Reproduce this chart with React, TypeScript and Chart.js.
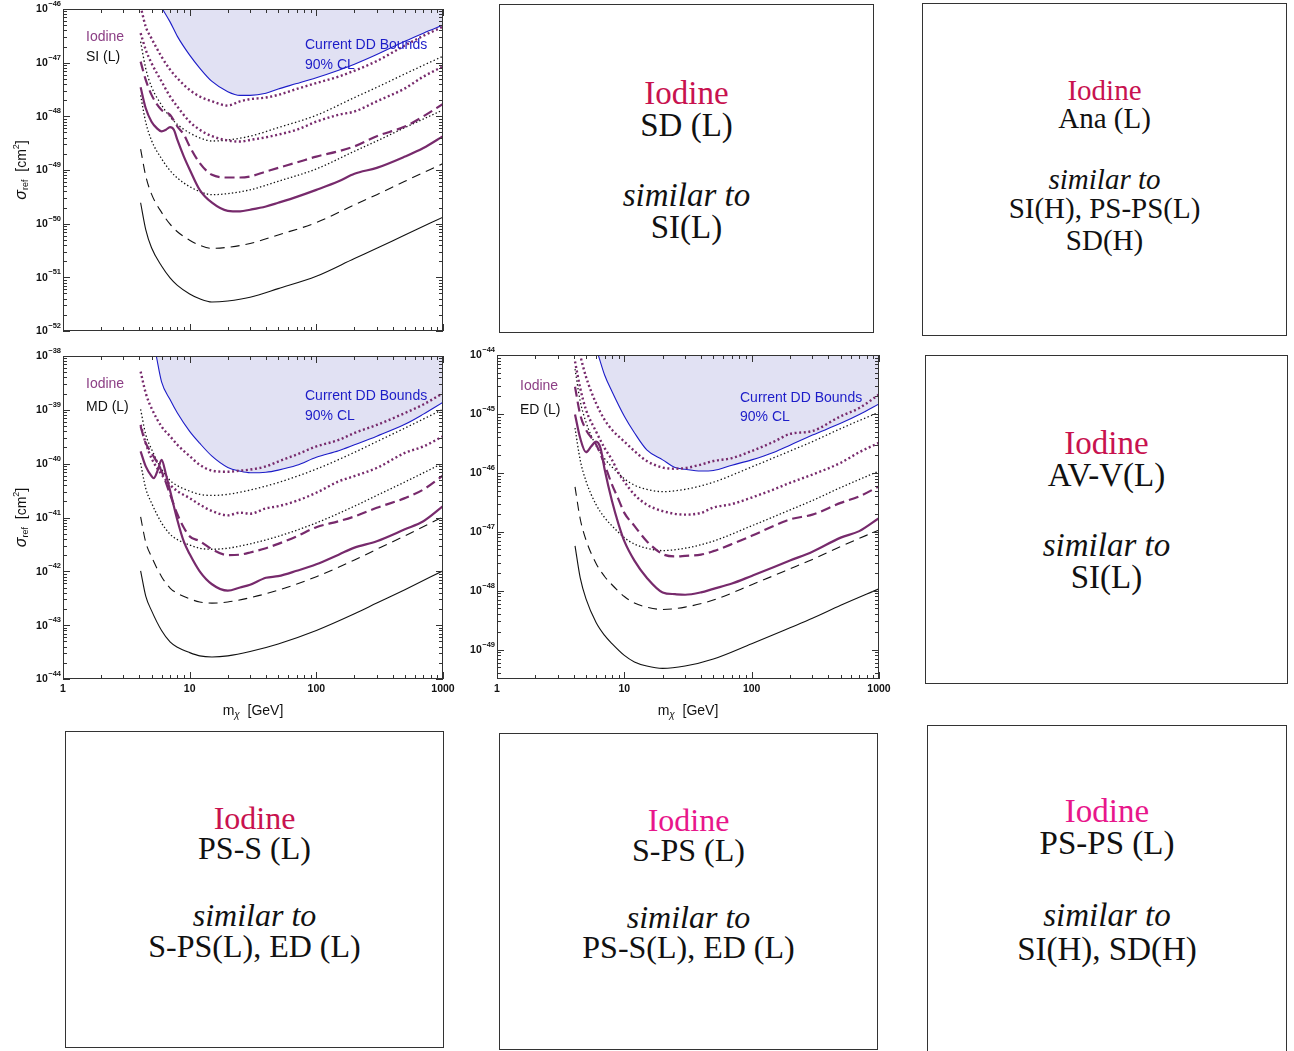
import React, { useEffect, useRef } from "react";
import { Chart, registerables } from "chart.js";

Chart.register(...registerables);

// ---------------- data: log10(sigma_ref / cm^2) ----------------
const X_TICKS = [1, 10, 100, 1000];
const SI_Y_TICKS = [-52, -51, -50, -49, -48, -47, -46];
const MD_Y_TICKS = [-44, -43, -42, -41, -40, -39, -38];
const ED_Y_TICKS = [-49, -48, -47, -46, -45, -44];

const MASS_BLACK = [4.1, 4.5, 5, 6, 7, 8, 10, 12, 15, 20, 30, 50, 100, 200, 300, 500, 1000];
const MASS_PURPLE = [4.1, 4.5, 5, 6, 7, 8, 10, 12, 15, 20, 25, 30, 40, 50, 70, 100, 150, 200, 300, 500, 700, 1000];
const MASS_PURPLE_DASH = [4.1, 4.5, 5, 6, 7, 8, 9, 10, 12, 15, 20, 25, 30, 40, 50, 70, 100, 150, 200, 300, 500, 700, 1000];

// ---- SI (L)
const SI_BLUE_MASS = [6.1, 7, 8, 10, 12, 15, 20, 25, 30, 40, 50, 70, 100, 150, 200, 300, 500, 700, 1000];
const SI_BLUE = [-46.0, -46.24, -46.51, -46.86, -47.1, -47.35, -47.54, -47.61, -47.61, -47.57, -47.49, -47.39, -47.28, -47.14, -47.03, -46.85, -46.6, -46.45, -46.3];
const SI_PU_DOT1 = [-45.95, -46.33, -46.55, -46.89, -47.13, -47.29, -47.51, -47.63, -47.72, -47.8, -47.72, -47.68, -47.65, -47.6, -47.49, -47.38, -47.26, -47.15, -46.97, -46.68, -46.5, -46.33];
const SI_PU_DOT2 = [-46.45, -46.76, -47.01, -47.35, -47.63, -47.82, -48.1, -48.25, -48.37, -48.45, -48.47, -48.44, -48.39, -48.34, -48.25, -48.1, -47.97, -47.91, -47.72, -47.48, -47.26, -47.07];
const SI_PU_DASH = [-46.98, -47.32, -47.6, -47.88, -47.97, -48.19, -48.34, -48.56, -48.87, -49.09, -49.14, -49.14, -49.12, -49.03, -48.96, -48.86, -48.75, -48.65, -48.56, -48.37, -48.19, -48.0, -47.77];
const SI_PU_SOLID_MASS = [4.1, 4.5, 5, 5.5, 6, 6.5, 7, 7.5, 8, 9, 10, 12, 15, 20, 25, 30, 40, 50, 70, 100, 150, 200, 300, 500, 700, 1000];
const SI_PU_SOLID = [-47.46, -47.85, -48.1, -48.22, -48.28, -48.25, -48.2, -48.25, -48.44, -48.75, -48.99, -49.37, -49.61, -49.76, -49.77, -49.74, -49.68, -49.61, -49.5, -49.37, -49.21, -49.07, -48.96, -48.75, -48.59, -48.37];
const SI_BK_DOT1 = [-46.61, -47.11, -47.45, -47.79, -48.01, -48.15, -48.31, -48.4, -48.46, -48.44, -48.37, -48.21, -47.98, -47.65, -47.46, -47.21, -46.88];
const SI_BK_DOT2 = [-47.61, -48.11, -48.45, -48.79, -49.01, -49.15, -49.31, -49.4, -49.46, -49.44, -49.37, -49.21, -48.98, -48.65, -48.46, -48.21, -47.88];
const SI_BK_DASH = [-48.61, -49.11, -49.45, -49.79, -50.01, -50.15, -50.31, -50.4, -50.46, -50.44, -50.37, -50.21, -49.98, -49.65, -49.46, -49.21, -48.88];
const SI_BK_SOLID = [-49.61, -50.11, -50.45, -50.79, -51.01, -51.15, -51.31, -51.4, -51.46, -51.44, -51.37, -51.21, -50.98, -50.65, -50.46, -50.21, -49.88];

// ---- MD (L)
const MD_BLUE_MASS = [5.45, 6, 7, 8, 10, 12, 15, 20, 25, 30, 40, 50, 70, 100, 150, 200, 300, 500, 700, 1000];
const MD_BLUE = [-38.0, -38.48, -38.81, -39.06, -39.4, -39.62, -39.86, -40.07, -40.14, -40.17, -40.16, -40.12, -40.03, -39.88, -39.76, -39.65, -39.49, -39.27, -39.08, -38.86];
const MD_PU_DOT1 = [-38.29, -38.69, -38.97, -39.31, -39.49, -39.65, -39.86, -40.02, -40.13, -40.15, -40.13, -40.11, -40.05, -39.96, -39.83, -39.68, -39.56, -39.43, -39.28, -39.06, -38.9, -38.69];
const MD_PU_DOT2 = [-39.28, -39.62, -39.9, -40.2, -40.39, -40.51, -40.64, -40.76, -40.88, -40.96, -40.91, -40.93, -40.83, -40.79, -40.69, -40.54, -40.33, -40.23, -40.08, -39.8, -39.68, -39.49];
const MD_PU_DASH = [-39.31, -39.62, -39.8, -40.14, -40.57, -40.94, -41.19, -41.35, -41.44, -41.59, -41.7, -41.69, -41.65, -41.57, -41.49, -41.35, -41.18, -41.07, -40.98, -40.82, -40.64, -40.48, -40.22];
const MD_PU_SOLID_MASS = [4.1, 4.5, 5, 5.2, 5.6, 6, 6.5, 7, 8, 9, 10, 12, 15, 20, 25, 30, 40, 50, 70, 100, 150, 200, 300, 500, 700, 1000];
const MD_PU_SOLID = [-39.77, -40.05, -40.23, -40.27, -40.12, -39.93, -40.2, -40.5, -41.05, -41.45, -41.68, -42.0, -42.24, -42.36, -42.3, -42.25, -42.12, -42.09, -41.99, -41.87, -41.69, -41.56, -41.44, -41.22, -41.07, -40.79];
const MD_BK_DOT1 = [-38.99, -39.46, -39.73, -40.1, -40.31, -40.41, -40.51, -40.57, -40.59, -40.57, -40.49, -40.35, -40.1, -39.79, -39.59, -39.34, -38.99];
const MD_BK_DOT2 = [-39.99, -40.46, -40.73, -41.1, -41.31, -41.41, -41.51, -41.57, -41.59, -41.57, -41.49, -41.35, -41.1, -40.79, -40.59, -40.34, -39.99];
const MD_BK_DASH = [-40.99, -41.46, -41.73, -42.1, -42.31, -42.41, -42.51, -42.57, -42.59, -42.57, -42.49, -42.35, -42.1, -41.79, -41.59, -41.34, -40.99];
const MD_BK_SOLID = [-41.99, -42.46, -42.73, -43.1, -43.31, -43.41, -43.51, -43.57, -43.59, -43.57, -43.49, -43.35, -43.1, -42.79, -42.59, -42.34, -41.99];

// ---- ED (L)
const ED_BLUE_MASS = [6.24, 7, 8, 10, 12, 15, 20, 25, 30, 40, 50, 70, 100, 150, 200, 300, 500, 700, 1000];
const ED_BLUE = [-44.0, -44.34, -44.62, -45.04, -45.32, -45.61, -45.78, -45.91, -45.94, -45.97, -45.96, -45.87, -45.78, -45.65, -45.53, -45.36, -45.16, -45.01, -44.83];
const ED_PU_DOT1 = [-43.6, -44.0, -44.37, -44.82, -45.1, -45.27, -45.47, -45.63, -45.8, -45.91, -45.93, -45.92, -45.86, -45.8, -45.75, -45.63, -45.47, -45.34, -45.29, -45.04, -44.9, -44.67];
const ED_PU_DOT2_MASS = [4.1, 4.5, 5, 6, 7, 8, 9, 10, 12, 15, 20, 30, 40, 50, 70, 100, 150, 200, 300, 500, 700, 1000];
const ED_PU_DOT2 = [-44.11, -44.56, -44.93, -45.3, -45.58, -45.78, -46.0, -46.15, -46.37, -46.54, -46.65, -46.71, -46.68, -46.59, -46.53, -46.42, -46.28, -46.17, -46.03, -45.83, -45.65, -45.49];
const ED_PU_DASH = [-44.54, -45.01, -45.27, -45.52, -45.86, -46.2, -46.45, -46.68, -46.9, -47.16, -47.38, -47.42, -47.41, -47.39, -47.33, -47.21, -47.07, -46.9, -46.79, -46.71, -46.51, -46.4, -46.23];
const ED_PU_SOLID_MASS = [4.1, 4.5, 5, 5.5, 6, 6.5, 7, 8, 9, 10, 12, 15, 20, 25, 30, 40, 50, 70, 100, 150, 200, 300, 500, 700, 1000];
const ED_PU_SOLID = [-45.01, -45.41, -45.65, -45.55, -45.47, -45.58, -45.94, -46.48, -46.87, -47.16, -47.49, -47.78, -48.03, -48.06, -48.07, -48.03, -47.97, -47.88, -47.75, -47.6, -47.49, -47.34, -47.1, -46.99, -46.77];
const ED_BK_DOT1 = [-44.24, -44.78, -45.14, -45.54, -45.76, -45.9, -46.1, -46.21, -46.28, -46.32, -46.28, -46.16, -45.9, -45.63, -45.47, -45.25, -44.97];
const ED_BK_DOT2 = [-45.24, -45.78, -46.14, -46.54, -46.76, -46.9, -47.1, -47.21, -47.28, -47.32, -47.28, -47.16, -46.9, -46.63, -46.47, -46.25, -45.97];
const ED_BK_DASH = [-46.24, -46.78, -47.14, -47.54, -47.76, -47.9, -48.1, -48.21, -48.28, -48.32, -48.28, -48.16, -47.9, -47.63, -47.47, -47.25, -46.97];
const ED_BK_SOLID = [-47.24, -47.78, -48.14, -48.54, -48.76, -48.9, -49.1, -49.21, -49.28, -49.32, -49.28, -49.16, -48.9, -48.63, -48.47, -48.25, -47.97];

// ---------------- styles ----------------
const SANS = '"Liberation Sans", Arial, Helvetica, sans-serif';
const SERIF = '"Liberation Serif", "Times New Roman", serif';
const PURPLE = "#772a6c";
const BLACK = "#111111";
const BLUE = "#1c1cc8";
const FILL = "rgb(225,225,243)";
const LABEL_PURPLE = "#8c3f85";
const FRAME = "#333333";

type Series = [number[], number[]];

const toPts = (m: number[], lg: number[]) => m.map((x, i) => ({ x, y: Math.pow(10, lg[i]) }));

function lineDs(s: Series, color: string, width: number, dash: number[], extra: any = {}) {
  return {
    data: toPts(s[0], s[1]),
    borderColor: color,
    borderWidth: width,
    borderDash: dash,
    pointRadius: 0,
    fill: false,
    cubicInterpolationMode: "monotone",
    ...extra,
  };
}

type PanelCfg = {
  key: string;
  left: number;
  top: number;
  w: number;
  h: number;
  pad: { left: number; top: number; right: number; bottom: number };
  yExp: [number, number];
  yTicks: number[];
  xLabels: boolean;
  yTitle: boolean;
  op: string;
  iod: [number, number, number];
  dd: [number, number, number];
  series: Record<string, Series>;
};

const PANELS: PanelCfg[] = [
  {
    key: "si",
    left: 0,
    top: 0,
    w: 460,
    h: 345,
    pad: { left: 63, top: 9, right: 17, bottom: 14 },
    yExp: [-52, -46],
    yTicks: SI_Y_TICKS,
    xLabels: false,
    yTitle: true,
    op: "SI (L)",
    iod: [86, 37, 57],
    dd: [305, 45, 65],
    series: {
      blue: [SI_BLUE_MASS, SI_BLUE],
      puDot1: [MASS_PURPLE, SI_PU_DOT1],
      puDot2: [MASS_PURPLE, SI_PU_DOT2],
      puDash: [MASS_PURPLE_DASH, SI_PU_DASH],
      puSolid: [SI_PU_SOLID_MASS, SI_PU_SOLID],
      bkDot1: [MASS_BLACK, SI_BK_DOT1],
      bkDot2: [MASS_BLACK, SI_BK_DOT2],
      bkDash: [MASS_BLACK, SI_BK_DASH],
      bkSolid: [MASS_BLACK, SI_BK_SOLID],
    },
  },
  {
    key: "md",
    left: 0,
    top: 345,
    w: 470,
    h: 380,
    pad: { left: 63, top: 11, right: 27, bottom: 46 },
    yExp: [-44, -38],
    yTicks: MD_Y_TICKS,
    xLabels: true,
    yTitle: true,
    op: "MD (L)",
    iod: [86, 39, 62],
    dd: [305, 51, 71],
    series: {
      blue: [MD_BLUE_MASS, MD_BLUE],
      puDot1: [MASS_PURPLE, MD_PU_DOT1],
      puDot2: [MASS_PURPLE, MD_PU_DOT2],
      puDash: [MASS_PURPLE_DASH, MD_PU_DASH],
      puSolid: [MD_PU_SOLID_MASS, MD_PU_SOLID],
      bkDot1: [MASS_BLACK, MD_BK_DOT1],
      bkDot2: [MASS_BLACK, MD_BK_DOT2],
      bkDash: [MASS_BLACK, MD_BK_DASH],
      bkSolid: [MASS_BLACK, MD_BK_SOLID],
    },
  },
  {
    key: "ed",
    left: 460,
    top: 345,
    w: 440,
    h: 380,
    pad: { left: 37, top: 10, right: 21, bottom: 46 },
    yExp: [-49.5, -44],
    yTicks: ED_Y_TICKS,
    xLabels: true,
    yTitle: false,
    op: "ED (L)",
    iod: [60, 41, 65],
    dd: [280, 53.5, 72.5],
    series: {
      blue: [ED_BLUE_MASS, ED_BLUE],
      puDot1: [MASS_PURPLE, ED_PU_DOT1],
      puDot2: [ED_PU_DOT2_MASS, ED_PU_DOT2],
      puDash: [MASS_PURPLE_DASH, ED_PU_DASH],
      puSolid: [ED_PU_SOLID_MASS, ED_PU_SOLID],
      bkDot1: [MASS_BLACK, ED_BK_DOT1],
      bkDot2: [MASS_BLACK, ED_BK_DOT2],
      bkDash: [MASS_BLACK, ED_BK_DASH],
      bkSolid: [MASS_BLACK, ED_BK_SOLID],
    },
  },
];

type Part = { t: string; font: string; dy: number };

function drawParts(ctx: CanvasRenderingContext2D, parts: Part[], cx: number, cy: number) {
  let total = 0;
  const widths = parts.map((p) => {
    ctx.font = p.font;
    const w = ctx.measureText(p.t).width;
    total += w;
    return w;
  });
  let x = cx - total / 2;
  ctx.textAlign = "left";
  ctx.textBaseline = "middle";
  parts.forEach((p, i) => {
    ctx.font = p.font;
    ctx.fillText(p.t, x, cy + p.dy);
    x += widths[i];
  });
}

function drawPow(ctx: CanvasRenderingContext2D, xRight: number, y: number, exp: number) {
  const e = "\u2212" + Math.abs(exp);
  ctx.textAlign = "left";
  ctx.textBaseline = "middle";
  ctx.font = `bold 7.5px ${SANS}`;
  const ew = ctx.measureText(e).width;
  ctx.font = `bold 10.5px ${SANS}`;
  const bw = ctx.measureText("10").width;
  ctx.fillText("10", xRight - ew - bw - 0.5, y + 0.5);
  ctx.font = `bold 7.5px ${SANS}`;
  ctx.fillText(e, xRight - ew, y - 5);
}

function makePlugin(cfg: PanelCfg) {
  return {
    id: "frame_" + cfg.key,
    afterDatasetsDraw(chart: any) {
      const ctx: CanvasRenderingContext2D = chart.ctx;
      const a = chart.chartArea;
      const xs = chart.scales.x;
      const ys = chart.scales.y;
      ctx.save();
      ctx.strokeStyle = FRAME;
      ctx.fillStyle = "#111";
      ctx.lineWidth = 1;
      ctx.setLineDash([]);
      ctx.strokeRect(Math.round(a.left) + 0.5, Math.round(a.top) + 0.5, Math.round(a.right - a.left) - 1, Math.round(a.bottom - a.top) - 1);

      const MAJ = 7;
      const MIN = 4;
      ctx.beginPath();
      // x ticks
      for (let k = 0; k <= 3; k++) {
        for (let j = 1; j <= 9; j++) {
          const v = j * Math.pow(10, k);
          if (v > 1000 * 1.0001) continue;
          const px = Math.round(xs.getPixelForValue(v)) + 0.5;
          const len = j === 1 ? MAJ : MIN;
          ctx.moveTo(px, a.bottom);
          ctx.lineTo(px, a.bottom - len);
          ctx.moveTo(px, a.top);
          ctx.lineTo(px, a.top + len);
        }
      }
      // y ticks
      const lo = Math.floor(cfg.yExp[0]);
      const hi = Math.ceil(cfg.yExp[1]);
      const ymin = Math.pow(10, cfg.yExp[0]) * 0.9999;
      const ymax = Math.pow(10, cfg.yExp[1]) * 1.0001;
      for (let e = lo; e <= hi; e++) {
        for (let j = 1; j <= 9; j++) {
          const v = j * Math.pow(10, e);
          if (v < ymin || v > ymax) continue;
          const py = Math.round(ys.getPixelForValue(v)) + 0.5;
          const len = j === 1 ? MAJ : MIN;
          ctx.moveTo(a.left, py);
          ctx.lineTo(a.left + len, py);
          ctx.moveTo(a.right, py);
          ctx.lineTo(a.right - len, py);
        }
      }
      ctx.stroke();

      // y tick labels
      ctx.fillStyle = "#111";
      cfg.yTicks.forEach((e) => {
        const py = ys.getPixelForValue(Math.pow(10, e));
        drawPow(ctx, a.left - 2, py, e);
      });

      // x tick labels + title
      if (cfg.xLabels) {
        ctx.font = `bold 10.5px ${SANS}`;
        ctx.textAlign = "center";
        ctx.textBaseline = "middle";
        X_TICKS.forEach((v) => {
          ctx.fillText(String(v), xs.getPixelForValue(v), a.bottom + 10);
        });
        drawParts(
          ctx,
          [
            { t: "m", font: `14px ${SANS}`, dy: 0 },
            { t: "\u03c7", font: `italic 10px ${SANS}`, dy: 4 },
            { t: "  [GeV]", font: `14px ${SANS}`, dy: 0 },
          ],
          (a.left + a.right) / 2,
          a.bottom + 32
        );
      }

      // y title
      if (cfg.yTitle) {
        ctx.save();
        ctx.translate(22, (a.top + a.bottom) / 2);
        ctx.rotate(-Math.PI / 2);
        drawParts(
          ctx,
          [
            { t: "\u03c3", font: `italic 16px ${SANS}`, dy: 0 },
            { t: "ref", font: `9px ${SANS}`, dy: 4 },
            { t: "  [cm", font: `14px ${SANS}`, dy: 0 },
            { t: "2", font: `9px ${SANS}`, dy: -5 },
            { t: "]", font: `14px ${SANS}`, dy: 0 },
          ],
          0,
          0
        );
        ctx.restore();
      }

      // in-plot labels
      ctx.textAlign = "left";
      ctx.textBaseline = "middle";
      ctx.font = `14px ${SANS}`;
      ctx.fillStyle = LABEL_PURPLE;
      ctx.fillText("Iodine", cfg.iod[0], cfg.iod[1]);
      ctx.fillStyle = "#111";
      ctx.fillText(cfg.op, cfg.iod[0], cfg.iod[2]);
      ctx.fillStyle = BLUE;
      ctx.fillText("Current DD Bounds", cfg.dd[0], cfg.dd[1]);
      ctx.fillText("90% CL", cfg.dd[0], cfg.dd[2]);
      ctx.restore();
    },
  };
}

function ChartPanel({ cfg }: { cfg: PanelCfg }) {
  const ref = useRef<HTMLCanvasElement | null>(null);
  useEffect(() => {
    const s = cfg.series;
    const datasets: any[] = [
      lineDs(s.puSolid, PURPLE, 2.2, []),
      lineDs(s.puDash, PURPLE, 2.2, [10, 5]),
      lineDs(s.puDot2, PURPLE, 2.4, [2, 2.6]),
      lineDs(s.puDot1, PURPLE, 2.4, [2, 2.6]),
      lineDs(s.bkSolid, BLACK, 1.1, []),
      lineDs(s.bkDash, BLACK, 1.1, [9, 6]),
      lineDs(s.bkDot2, BLACK, 1.3, [1.4, 2.2]),
      lineDs(s.bkDot1, BLACK, 1.3, [1.4, 2.4]),
      lineDs(s.blue, BLUE, 1.1, [], { fill: "end", backgroundColor: FILL }),
    ];
    const ymin = Math.pow(10, cfg.yExp[0]);
    const ymax = Math.pow(10, cfg.yExp[1]);
    const chart = new Chart(ref.current as HTMLCanvasElement, {
      type: "line",
      data: { datasets },
      options: {
        responsive: false,
        animation: false,
        devicePixelRatio: 1,
        events: [],
        layout: { padding: cfg.pad },
        plugins: { legend: { display: false }, tooltip: { enabled: false }, title: { display: false } },
        scales: {
          x: { type: "logarithmic", min: 1, max: 1000, display: false, bounds: "data" },
          y: { type: "logarithmic", min: ymin, max: ymax, display: false, bounds: "data" },
        },
      } as any,
      plugins: [makePlugin(cfg)],
    } as any);
    return () => chart.destroy();
  }, [cfg]);
  return (
    <canvas
      ref={ref}
      width={cfg.w}
      height={cfg.h}
      style={{ position: "absolute", left: cfg.left, top: cfg.top, width: cfg.w, height: cfg.h }}
    />
  );
}

// ---------------- text boxes (layout) ----------------
type Note = {
  box: [number, number, number, number];
  size: number;
  color: string;
  lines: [string, number, boolean?][];
};

const CRIMSON = "#c8124f";
const PINK = "#e8168b";

const NOTES: Note[] = [
  { box: [499, 4, 375, 329], size: 33, color: CRIMSON, lines: [["Iodine", 105], ["SD (L)", 137], ["similar to", 207, true], ["SI(L)", 239]] },
  {
    box: [922, 3, 365, 333],
    size: 29,
    color: CRIMSON,
    lines: [["Iodine", 100], ["Ana (L)", 128], ["similar to", 189, true], ["SI(H), PS-PS(L)", 218], ["SD(H)", 250.5]],
  },
  { box: [925, 355, 363, 329], size: 33, color: CRIMSON, lines: [["Iodine", 455], ["AV-V(L)", 486.5], ["similar to", 556.5, true], ["SI(L)", 589]] },
  { box: [65, 731, 379, 317], size: 32, color: CRIMSON, lines: [["Iodine", 829], ["PS-S (L)", 859], ["similar to", 926, true], ["S-PS(L), ED (L)", 956.5]] },
  { box: [499, 733, 379, 317], size: 32, color: PINK, lines: [["Iodine", 831], ["S-PS (L)", 861], ["similar to", 927.5, true], ["PS-S(L), ED (L)", 958]] },
  { box: [927, 725, 360, 340], size: 33, color: PINK, lines: [["Iodine", 822.5], ["PS-PS (L)", 855], ["similar to", 926.5, true], ["SI(H), SD(H)", 960.5]] },
];

function NoteBox({ note }: { note: Note }) {
  const [l, t, w, h] = note.box;
  const fs = note.size;
  return (
    <>
      <div
        style={{
          position: "absolute",
          left: l,
          top: t,
          width: w,
          height: h,
          boxSizing: "border-box",
          border: "1px solid #333",
        }}
      />
      {note.lines.map(([txt, baseline, ital], i) => (
        <div
          key={i}
          style={{
            position: "absolute",
            left: l,
            width: w,
            top: baseline - 0.8375 * fs,
            height: fs,
            lineHeight: fs + "px",
            fontSize: fs,
            fontFamily: SERIF,
            fontStyle: ital ? "italic" : "normal",
            textAlign: "center",
            whiteSpace: "nowrap",
            color: i === 0 ? note.color : "#111",
          }}
        >
          {txt}
        </div>
      ))}
    </>
  );
}

export default function App() {
  return (
    <div
      style={{
        position: "absolute",
        left: 0,
        top: 0,
        width: 1294,
        height: 1051,
        overflow: "hidden",
        background: "#fff",
      }}
    >
      {PANELS.map((p) => (
        <ChartPanel key={p.key} cfg={p} />
      ))}
      {NOTES.map((n, i) => (
        <NoteBox key={i} note={n} />
      ))}
    </div>
  );
}
